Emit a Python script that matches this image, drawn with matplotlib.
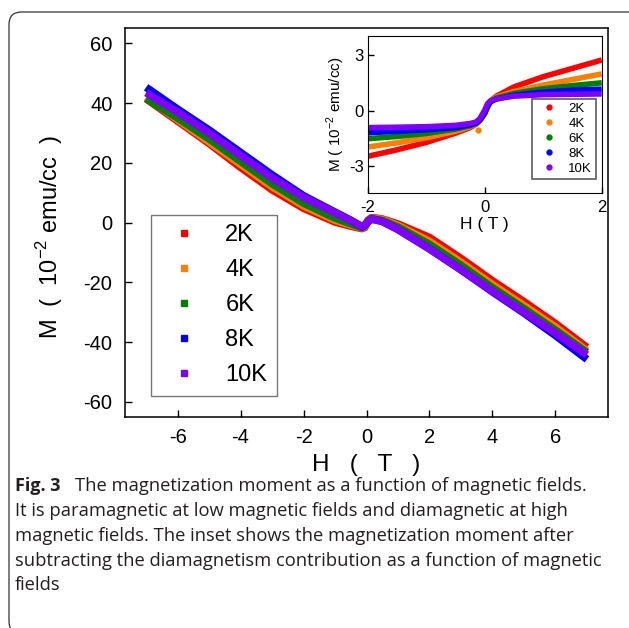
import matplotlib
matplotlib.use("Agg")
import matplotlib.pyplot as plt
from matplotlib.lines import Line2D
from matplotlib.patches import FancyBboxPatch

W, H = 629, 628

# main panel: M vs H for each temperature
H_main = [-7, -6, -5, -4, -3, -2, -1, -0.5, -0.15, -0.05, 0.05, 0.15, 0.3, 0.5, 1, 2, 3, 4, 5, 6, 7]
M_2K = [41.5, 34.0, 26.5, 18.5, 11.0, 4.8, 0.2, -1.2, -2.0, -1.6, 0.8, 1.6, 1.5, 1.2, -0.5, -5.0, -12.0, -19.5, -26.5, -33.8, -41.8]
M_4K = [42.0, 34.5, 27.0, 19.5, 12.0, 5.6, 0.8, -0.8, -1.8, -1.3, 0.6, 1.4, 1.3, 1.0, -1.0, -6.3, -13.3, -20.8, -27.8, -35.0, -43.0]
M_6K = [41.5, 35.0, 28.0, 20.5, 13.0, 6.5, 1.5, -0.4, -1.7, -1.1, 0.5, 1.3, 1.1, 0.7, -1.5, -7.3, -14.3, -21.8, -28.8, -36.0, -43.5]
M_8K = [45.3, 38.0, 31.0, 23.5, 16.0, 9.0, 3.5, 0.8, -1.4, -0.8, 0.3, 1.2, 0.9, 0.4, -2.3, -8.8, -15.8, -23.2, -30.3, -37.8, -45.8]
M_10K = [43.5, 37.0, 30.0, 22.5, 15.0, 8.5, 3.3, 0.7, -1.3, -0.7, 0.3, 1.2, 0.9, 0.4, -2.3, -8.8, -15.8, -23.0, -30.0, -37.0, -44.3]

# inset: after subtracting the diamagnetic part
H_in = [-2, -1.5, -1, -0.5, -0.25, -0.15, -0.08, 0.0, 0.05, 0.1, 0.2, 0.5, 1, 1.5, 2]
Mi_2K = [-2.45, -2.1, -1.7, -1.2, -0.9, -0.72, -0.5, -0.1, 0.3, 0.55, 0.8, 1.3, 1.85, 2.3, 2.75]
Mi_4K = [-1.95, -1.72, -1.45, -1.1, -0.85, -0.7, -0.5, -0.1, 0.3, 0.55, 0.75, 1.05, 1.4, 1.7, 2.0]
Mi_6K = [-1.5, -1.38, -1.22, -0.98, -0.8, -0.68, -0.5, -0.15, 0.2, 0.5, 0.7, 0.95, 1.2, 1.37, 1.52]
Mi_8K = [-1.18, -1.1, -1.02, -0.9, -0.75, -0.65, -0.48, -0.1, 0.3, 0.5, 0.65, 0.85, 1.02, 1.12, 1.18]
Mi_10K = [-0.9, -0.88, -0.85, -0.78, -0.68, -0.6, -0.4, 0.05, 0.4, 0.55, 0.65, 0.8, 0.88, 0.9, 0.92]
outlier_H, outlier_M = [-0.12], [-1.05]  # stray 4K point

labels = ["2K", "4K", "6K", "8K", "10K"]
colors = ["#ff0000", "#ff8000", "#008000", "#0000ff", "#8000ff"]
main_series = [M_2K, M_4K, M_6K, M_8K, M_10K]
inset_series = [Mi_2K, Mi_4K, Mi_6K, Mi_8K, Mi_10K]

caption_lines = [
    "The magnetization moment as a function of magnetic fields.",
    "It is paramagnetic at low magnetic fields and diamagnetic at high",
    "magnetic fields. The inset shows the magnetization moment after",
    "subtracting the diamagnetism contribution as a function of magnetic",
    "fields",
]

plt.rcParams['font.family'] = ['Liberation Sans', 'DejaVu Sans']
plt.rcParams['mathtext.fontset'] = 'custom'
plt.rcParams['mathtext.rm'] = 'Liberation Sans'
plt.rcParams['axes.unicode_minus'] = False


def box(x0, y0, x1, y1):
    # pixel box (top-left origin) -> figure fraction rect
    return [x0 / W, 1 - y1 / H, (x1 - x0) / W, (y1 - y0) / H]


fig = plt.figure(figsize=(W / 100, H / 100), dpi=100)

# rounded frame around figure + caption
frame = FancyBboxPatch((9 / W, -6 / H), 640 / W, (H + 6 - 12) / H,
                       boxstyle="round,pad=0,rounding_size=0.02",
                       transform=fig.transFigure, fill=False,
                       edgecolor="#333333", linewidth=0.9)
fig.patches.append(frame)

ax = fig.add_axes(box(125, 28.5, 608, 416.7))
for m, c in zip(main_series, colors):
    ax.plot(H_main, m, color=c, lw=5.5, solid_capstyle='butt', solid_joinstyle='round')
ax.set_xlim(-7.67, 7.67)
ax.set_ylim(-65, 65)
ax.set_xticks([-6, -4, -2, 0, 2, 4, 6])
ax.set_yticks([-60, -40, -20, 0, 20, 40, 60])
ax.tick_params(direction='in', length=5, width=1, labelsize=14.5, top=False, right=False)
ax.tick_params(axis='y', pad=9)
ax.tick_params(axis='x', pad=8)
for s in ax.spines.values():
    s.set_linewidth(1.1)
ax.set_xlabel("H   (   T   )", fontsize=17.5, labelpad=5)
ax.set_ylabel("M  (  10$^{-2}$ emu/cc  )", fontsize=17)
ax.yaxis.set_label_coords((65 - 125) / 483, (416.7 - 237) / 388.2)

handles = [Line2D([], [], ls='none', marker='s', ms=4, color=c) for c in colors]
leg = ax.legend(handles, labels, loc='upper left', fontsize=17,
                bbox_to_anchor=((151 - 125) / 483, (416.7 - 215) / 388.2),
                borderaxespad=0, borderpad=0.4, handlelength=2.0,
                handletextpad=0.75, labelspacing=0.55, frameon=True, fancybox=False)
leg.get_frame().set_edgecolor('#555555')
leg.get_frame().set_linewidth(1.0)

axin = fig.add_axes(box(367.7, 36, 601.7, 193.3))
for m, c in zip(inset_series, colors):
    axin.plot(H_in, m, color=c, lw=4, solid_capstyle='butt', solid_joinstyle='round')
axin.plot(outlier_H, outlier_M, 'o', color=colors[1], ms=3.5)
axin.set_xlim(-2, 2)
axin.set_ylim(-4.45, 4.05)
axin.set_xticks([-2, 0, 2])
axin.set_yticks([-3, 0, 3])
axin.tick_params(direction='in', length=4, width=1, labelsize=12, top=False, right=False)
axin.tick_params(axis='y', pad=3)
axin.tick_params(axis='x', pad=5)
axin.set_xlabel("H ( T )", fontsize=12.5, labelpad=1)
axin.set_ylabel("M ( 10$^{-2}$ emu/cc)", fontsize=11, labelpad=1)

hin = [Line2D([], [], ls='none', marker='o', ms=3.5, color=c) for c in colors]
leg2 = axin.legend(hin, labels, loc='upper right', fontsize=9.5,
                   bbox_to_anchor=(0.976, 0.60), borderaxespad=0, borderpad=0.3,
                   handlelength=2.0, handletextpad=0.45, labelspacing=0.2,
                   frameon=True, fancybox=False)
leg2.get_frame().set_edgecolor('#333333')
leg2.get_frame().set_linewidth(1.2)

# caption
cap_font = ['Open Sans', 'DejaVu Sans']
base = [491, 516, 540.7, 565.7, 590]
fig.text(15 / W, 1 - base[0] / H, "Fig. 3", family=cap_font, fontweight='bold',
         fontsize=13, va='baseline', ha='left', color='#231f20')
for i, line in enumerate(caption_lines):
    x0 = 75 if i == 0 else 15
    fig.text(x0 / W, 1 - base[i] / H, line, family=cap_font, fontsize=13.2,
             va='baseline', ha='left', color='#231f20')

fig.savefig("out.png", dpi=100)
